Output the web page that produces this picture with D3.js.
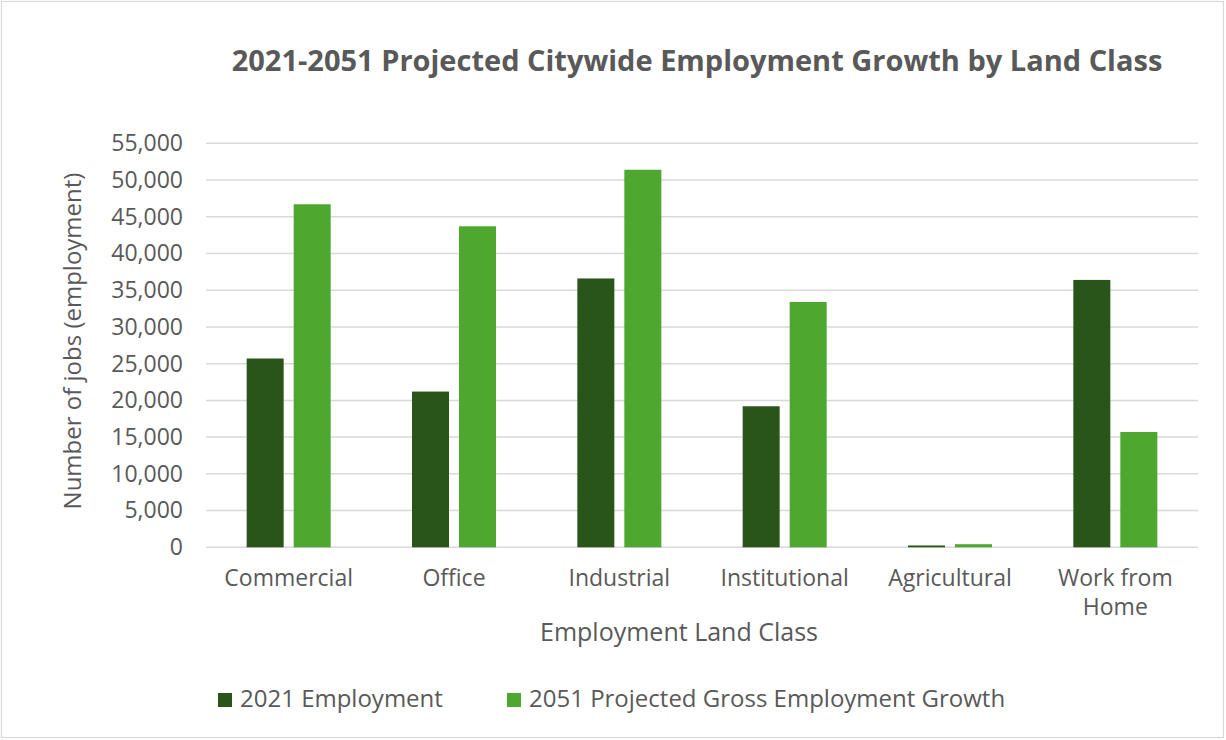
<!DOCTYPE html>
<html lang="en">
<head>
  <meta charset="UTF-8">
  <title>Employment growth by land class</title>
  <script src="https://cdn.jsdelivr.net/npm/d3@7"></script>
  <style>
    body { margin: 0; background: #fff; }
    text { font-family: "Open Sans", sans-serif; fill: #595959; }
  </style>
</head>
<body>

  <svg id="svg" width="1226" height="740"></svg>

  <script>
    // Chart data
    const categories = ['Commercial', 'Office', 'Industrial', 'Institutional', 'Agricultural', 'Work from Home']
    const categoryLines = [['Commercial'], ['Office'], ['Industrial'], ['Institutional'], ['Agricultural'], ['Work from', 'Home']]
    const seriesNames = ['2021 Employment', '2051 Projected Gross Employment Growth']
    const employment2021 = [25700, 21200, 36600, 19200, 250, 36400]
    const growth2051 = [46700, 43700, 51400, 33400, 420, 15700]
    const yTicks = [0, 5000, 10000, 15000, 20000, 25000, 30000, 35000, 40000, 45000, 50000, 55000]

    const colors = ['#2a5519', '#4ea72e']

    const plot = { left: 206, right: 1198, top: 143.3, bottom: 547.3 }

    const svg = d3.select('#svg')

    // outer frame
    svg.append('rect')
      .attr('x', 1.5).attr('y', 1.5)
      .attr('width', 1222).attr('height', 736)
      .attr('fill', 'none')
      .attr('stroke', '#d9d9d9')
      .attr('stroke-width', 1.2)

    const rows = categories.map((c, i) => ({
      category: c,
      values: [employment2021[i], growth2051[i]]
    }))

    const x0 = d3.scaleBand()
      .domain(categories)
      .range([plot.left, plot.right])
      .padding(0)

    const x1 = d3.scaleBand()
      .domain([0, 1])
      .range([0, x0.bandwidth()])
      .paddingInner(0.213)
      .paddingOuter(0.865)

    const y = d3.scaleLinear()
      .domain([0, 55000])
      .range([plot.bottom, plot.top])

    // gridlines
    svg.append('g')
      .selectAll('line')
      .data(yTicks)
      .enter()
      .append('line')
      .attr('x1', plot.left)
      .attr('x2', plot.right)
      .attr('y1', d => y(d))
      .attr('y2', d => y(d))
      .attr('stroke', '#d9d9d9')
      .attr('stroke-width', 1.5)

    // y axis labels
    const yAxis = svg.append('g')
      .attr('transform', `translate(${plot.left - 23}, 0)`)
      .call(d3.axisLeft(y).tickValues(yTicks).tickFormat(d3.format(',')).tickSize(0).tickPadding(0))
    yAxis.select('.domain').remove()
    yAxis.selectAll('text')
      .attr('font-size', 23)
      .attr('font-family', '"Open Sans", sans-serif')
      .style('fill', '#595959')

    // bars
    svg.append('g')
      .selectAll('g')
      .data(rows)
      .enter()
      .append('g')
      .attr('transform', d => `translate(${x0(d.category)}, 0)`)
      .selectAll('rect')
      .data(d => d.values.map((v, i) => ({ v, i })))
      .enter()
      .append('rect')
      .attr('x', d => x1(d.i))
      .attr('y', d => y(d.v))
      .attr('width', x1.bandwidth())
      .attr('height', d => y(0) - y(d.v))
      .attr('fill', d => colors[d.i])

    // category labels
    const xLabels = svg.append('g')
      .selectAll('text')
      .data(categories)
      .enter()
      .append('text')
      .attr('x', d => x0(d) + x0.bandwidth() / 2)
      .attr('y', 586)
      .attr('text-anchor', 'middle')
      .attr('font-size', 23)
    xLabels.selectAll('tspan')
      .data((d, i) => categoryLines[i])
      .enter()
      .append('tspan')
      .attr('x', function () { return d3.select(this.parentNode).attr('x') })
      .attr('dy', (d, i) => i === 0 ? 0 : 29)
      .text(d => d)

    // axis titles
    svg.append('text')
      .attr('x', 679)
      .attr('y', 641)
      .attr('text-anchor', 'middle')
      .attr('font-size', 25)
      .text('Employment Land Class')

    svg.append('text')
      .attr('transform', 'translate(81, 341) rotate(-90)')
      .attr('text-anchor', 'middle')
      .attr('font-size', 24)
      .text('Number of jobs (employment)')

    // title
    svg.append('text')
      .attr('x', 697)
      .attr('y', 71)
      .attr('text-anchor', 'middle')
      .attr('font-size', 29)
      .attr('font-weight', 'bold')
      .text('2021-2051 Projected Citywide Employment Growth by Land Class')

    // legend
    const legendX = [218, 507]
    const legend = svg.append('g')
      .selectAll('g')
      .data(seriesNames)
      .enter()
      .append('g')
      .attr('transform', (d, i) => `translate(${legendX[i]}, 693)`)
    legend.append('rect')
      .attr('width', 14)
      .attr('height', 14)
      .attr('fill', (d, i) => colors[i])
    legend.append('text')
      .attr('x', 22)
      .attr('y', 14.3)
      .attr('font-size', 24)
      .text(d => d)
  </script>
</body>
</html>
